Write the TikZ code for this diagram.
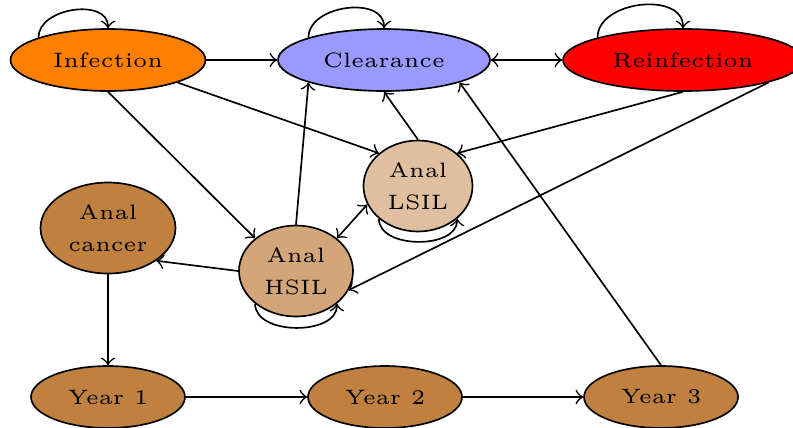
\documentclass[tikz,border=0pt]{standalone}
\usetikzlibrary{shapes.geometric}
\tikzset{
  state/.style={ellipse, draw, inner sep=0pt, align=center, font=\fontsize{5}{7.7}\selectfont},
}
\begin{document}
\begin{tikzpicture}[x=0.24pt,y=-0.24pt,>=to]
			%%%%% START %%%%%
			\def\px{0.24pt}
			\def\ytop{60}
			\def\yyear{397}
			\def\xleft{108}
			\def\xmid{384}
			\def\hone{62}
			\def\htwo{91}
			
			\useasboundingbox (0,0) rectangle (793,427);
			
			% top row
			\node[state, fill=orange, minimum width=195*\px, minimum height=\hone*\px] (inf) at (\xleft,\ytop) {Infection};
			\node[state, fill=blue!40, minimum width=212*\px, minimum height=\hone*\px] (clr) at (\xmid,\ytop) {Clearance};
			\node[state, fill=red, minimum width=240*\px, minimum height=\hone*\px] (rein) at (683,\ytop) {Reinfection};
			
			% lesions
			\node[state, fill=brown!50, minimum width=109*\px, minimum height=\htwo*\px] (lsil) at (418,186) {Anal\\LSIL};
			\node[state, fill=brown!70, minimum width=114*\px, minimum height=\htwo*\px] (hsil) at (296,271) {Anal\\HSIL};
			\node[state, fill=brown, minimum width=135*\px, minimum height=\htwo*\px] (canc) at (\xleft,228) {Anal\\cancer};
			
			% years
			\node[state, fill=brown, minimum width=154*\px, minimum height=\hone*\px] (yone) at (\xleft,\yyear) {Year 1};
			\node[state, fill=brown, minimum width=154*\px, minimum height=\hone*\px] (ytwo) at (385,\yyear) {Year 2};
			\node[state, fill=brown, minimum width=154*\px, minimum height=\hone*\px] (ythree) at (661,\yyear) {Year 3};
			
			% loops
			\draw[->] (inf.north west) to[out=90,in=90,looseness=1.1] (inf.north);
			\draw[->] (clr.north west) to[out=90,in=90,looseness=1.1] (clr.north);
			\draw[->] (rein.north west) to[out=90,in=90,looseness=1.1] (rein.north);
			\draw[->] (hsil.south west) to[out=-90,in=-90,looseness=1] (hsil.south east);
			\draw[->] (lsil.south west) to[out=-90,in=-90,looseness=1] (lsil.south east);
			
			% transitions
			\draw[->] (inf.east) -- (clr.west);
			\draw[<->] (clr.east) -- (rein.west);
			\draw[->] (inf.south east) -- (lsil.north west);
			\draw[->] (inf.south) -- (hsil.north west);
			\draw[->] (hsil.north) -- (clr.south west);
			\draw[->] (lsil.north) -- (clr.south);
			\draw[->] (rein.south) -- (lsil.north east);
			\draw[->] (rein.south east) -- (hsil.-20);
			\draw[<->] (hsil.north east) -- (lsil.200);
			\draw[->] (hsil.west) -- (canc.south east);
			\draw[->] (canc.south) -- (yone.north);
			\draw[->] (yone.east) -- (ytwo.west);
			\draw[->] (ytwo.east) -- (ythree.west);
			\draw[->] (ythree.north) -- (clr.south east);
			%%%%% END %%%%%
		\end{tikzpicture}
\end{document}
